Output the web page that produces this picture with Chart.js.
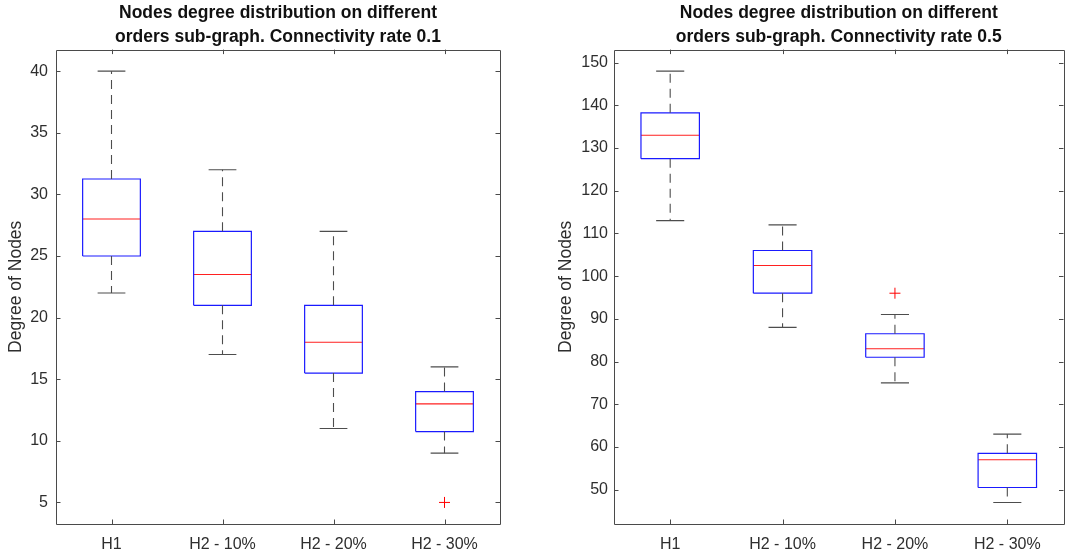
<!DOCTYPE html>
<html>
<head>
<meta charset="utf-8">
<script src="https://cdn.jsdelivr.net/npm/chart.js@4.4.1/dist/chart.umd.min.js"></script>
<style>
  html, body { margin: 0; padding: 0; background: #fff; }
  #wrap { position: relative; width: 1070px; height: 553px; }
  .cell { position: absolute; top: 0; width: 535px; height: 553px; }
</style>
</head>
<body>
<div id="wrap">
  <div class="cell" style="left:0"><canvas id="c1"></canvas></div>
  <div class="cell" style="left:535px"><canvas id="c2"></canvas></div>
</div>
<script>
// ---------------- DATA ----------------
const categories = ['H1', 'H2 - 10%', 'H2 - 20%', 'H2 - 30%'];

// Connectivity rate 0.1
const lowWhisker01  = [22, 17, 11, 9];
const q1_01         = [25, 21, 15.5, 10.75];
const median01      = [28, 23.5, 18, 13];
const q3_01         = [31.25, 27, 21, 14];
const highWhisker01 = [40, 32, 27, 16];
const outliers01    = [[], [], [], [5]];
const yTicks01      = [5, 10, 15, 20, 25, 30, 35, 40];
const yRange01      = [3.25, 41.75];

// Connectivity rate 0.5
const lowWhisker05  = [113, 88, 75, 47];
const q1_05         = [127.5, 96, 81, 50.5];
const median05      = [133, 102.5, 83, 57];
const q3_05         = [138.25, 106, 86.5, 58.5];
const highWhisker05 = [148, 112, 91, 63];
const outliers05    = [[], [], [96], []];
const yTicks05      = [50, 60, 70, 80, 90, 100, 110, 120, 130, 140, 150];
const yRange05      = [41.95, 153.05];

const titles = [
  ['Nodes degree distribution on different', 'orders sub-graph. Connectivity rate 0.1'],
  ['Nodes degree distribution on different', 'orders sub-graph. Connectivity rate 0.5']
];
const yLabel = 'Degree of Nodes';

// ---------------- HELPERS ----------------
const BOX_HALF = 0.26;
const CAP_HALF = 0.125;
const FONT = "'Liberation Sans', Arial, Helvetica, sans-serif";

function gap(x) { return { x: x, y: null }; }

function buildDatasets(lo, q1, med, q3, hi, outl) {
  const whiskers = [], caps = [], boxes = [], medians = [], outs = [];
  categories.forEach((c, i) => {
    const x = i + 1;
    whiskers.push({ x, y: q3[i] }, { x, y: hi[i] }, gap(x));
    whiskers.push({ x, y: q1[i] }, { x, y: lo[i] }, gap(x));
    caps.push({ x: x - CAP_HALF, y: hi[i] }, { x: x + CAP_HALF, y: hi[i] }, gap(x));
    caps.push({ x: x - CAP_HALF, y: lo[i] }, { x: x + CAP_HALF, y: lo[i] }, gap(x));
    boxes.push({ x: x - BOX_HALF, y: q1[i] }, { x: x + BOX_HALF, y: q1[i] },
               { x: x + BOX_HALF, y: q3[i] }, { x: x - BOX_HALF, y: q3[i] },
               { x: x - BOX_HALF, y: q1[i] }, gap(x));
    medians.push({ x: x - BOX_HALF, y: med[i] }, { x: x + BOX_HALF, y: med[i] }, gap(x));
    outl[i].forEach(v => outs.push({ x, y: v }));
  });
  const line = (data, color, dash, w) => ({
    type: 'line', data, borderColor: color, borderWidth: w || 1, borderDash: dash || [],
    pointRadius: 0, spanGaps: false, fill: false, tension: 0
  });
  return [
    line(whiskers, '#4d4d4d', [9, 6], 1.1),
    line(caps, '#4d4d4d', null, 1.1),
    line(boxes, '#1a1aff', null, 1.2),
    line(medians, '#ff2020', null, 1.1),
    { type: 'scatter', data: outs, pointStyle: 'cross', pointRadius: 5.5,
      borderColor: '#ff0000', backgroundColor: '#ff0000', pointBorderWidth: 1 }
  ];
}

const matlabAxes = {
  id: 'matlabAxes',
  afterDraw(chart) {
    const { ctx, chartArea: a, scales } = chart;
    ctx.save();
    ctx.strokeStyle = '#4a4a4a';
    ctx.lineWidth = 1;
    ctx.beginPath();
    ctx.rect(Math.round(a.left) + 0.5, Math.round(a.top) + 0.5,
             Math.round(a.right - a.left), Math.round(a.bottom - a.top));
    ctx.stroke();
    const L = 4.5;
    ctx.beginPath();
    scales.y.ticks.forEach(t => {
      const py = Math.round(scales.y.getPixelForValue(t.value)) + 0.5;
      ctx.moveTo(a.left, py); ctx.lineTo(a.left + L, py);
      ctx.moveTo(a.right, py); ctx.lineTo(a.right - L, py);
    });
    scales.x.ticks.forEach(t => {
      const px = Math.round(scales.x.getPixelForValue(t.value)) + 0.5;
      ctx.moveTo(px, a.bottom); ctx.lineTo(px, a.bottom - L);
      ctx.moveTo(px, a.top); ctx.lineTo(px, a.top + L);
    });
    ctx.stroke();
    ctx.restore();
  }
};

function makeChart(id, datasets, yTicks, yRange, title, yAxisWidth, rightPad, labelPad, yTitlePad) {
  return new Chart(document.getElementById(id), {
    data: { datasets },
    options: {
      responsive: true,
      maintainAspectRatio: false,
      animation: false,
      layout: { padding: { left: 0, right: rightPad, top: 0, bottom: 0 } },
      plugins: {
        legend: { display: false },
        tooltip: { enabled: false },
        title: {
          display: true,
          text: title,
          fullSize: false,
          color: '#111',
          font: { family: FONT, size: 17.5, weight: 'bold', lineHeight: 1.36 },
          padding: { top: 1, bottom: 1 }
        }
      },
      scales: {
        x: {
          type: 'linear',
          min: 0.5, max: 4.5,
          grid: { display: false, drawTicks: false },
          border: { display: false },
          afterBuildTicks: s => { s.ticks = categories.map((c, i) => ({ value: i + 1 })); },
          afterFit: s => { s.height = 29; },
          ticks: {
            autoSkip: false, maxRotation: 0, padding: 11,
            color: '#2e2e2e',
            font: { family: FONT, size: 16 },
            callback: v => categories[v - 1]
          }
        },
        y: {
          type: 'linear',
          min: yRange[0], max: yRange[1],
          grid: { display: false, drawTicks: false },
          border: { display: false },
          afterBuildTicks: s => { s.ticks = yTicks.map(v => ({ value: v })); },
          afterFit: s => { s.width = yAxisWidth; },
          ticks: {
            padding: labelPad,
            color: '#2e2e2e',
            font: { family: FONT, size: 16 }
          },
          title: {
            display: true,
            text: yLabel,
            color: '#2e2e2e',
            font: { family: FONT, size: 17.5, lineHeight: 1.2 },
            padding: { top: yTitlePad, bottom: 0 }
          }
        }
      }
    },
    plugins: [matlabAxes]
  });
}

makeChart('c1',
  buildDatasets(lowWhisker01, q1_01, median01, q3_01, highWhisker01, outliers01),
  yTicks01, yRange01, titles[0], 56, 35, 8, 5.5);
makeChart('c2',
  buildDatasets(lowWhisker05, q1_05, median05, q3_05, highWhisker05, outliers05),
  yTicks05, yRange05, titles[1], 79, 4, 6, 21);
</script>
</body>
</html>
